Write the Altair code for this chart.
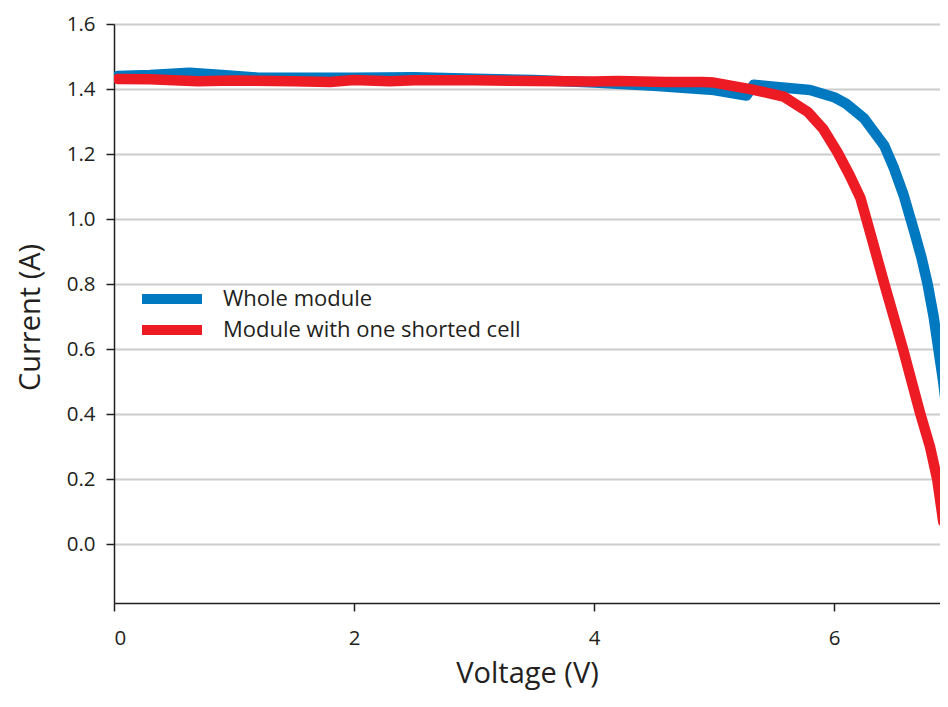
import altair as alt
import pandas as pd

# Whole module I-V curve (voltage V, current A)
whole_v = [0.03, 0.3, 0.63, 0.9, 1.2, 2.0, 2.5, 3.0, 3.5, 4.0, 4.5, 5.0, 5.27, 5.33,
           5.5, 5.8, 6.0, 6.1, 6.25, 6.42, 6.5, 6.58, 6.67, 6.73, 6.78, 6.83, 6.87, 6.91, 6.94]
whole_i = [1.44, 1.443, 1.45, 1.443, 1.435, 1.435, 1.436, 1.432, 1.428, 1.42, 1.41, 1.397, 1.38, 1.413,
           1.407, 1.397, 1.375, 1.355, 1.31, 1.225, 1.156, 1.074, 0.96, 0.88, 0.80, 0.70, 0.60, 0.50, 0.41]

# Module with one shorted cell
short_v = [0.03, 0.3, 0.7, 1.0, 1.5, 1.8, 2.0, 2.3, 2.5, 3.0, 3.5, 4.0, 4.2, 4.6, 4.9, 5.0,
           5.3, 5.58, 5.78, 5.91, 6.03, 6.13, 6.22, 6.3, 6.42, 6.575, 6.72, 6.8, 6.86, 6.91]
short_i = [1.431, 1.43, 1.424, 1.426, 1.424, 1.422, 1.428, 1.424, 1.427, 1.427, 1.425, 1.423, 1.425, 1.422, 1.422, 1.42,
           1.40, 1.377, 1.33, 1.277, 1.205, 1.135, 1.065, 0.96, 0.80, 0.60, 0.40, 0.30, 0.20, 0.07]

series_names = ["Whole module", "Module with one shorted cell"]
series_colors = ["#0079C1", "#ED1C24"]

x_ticks = [0, 2, 4, 6]
y_ticks = [0.0, 0.2, 0.4, 0.6, 0.8, 1.0, 1.2, 1.4, 1.6]

rows = []
for k, (v, i) in enumerate(zip(whole_v, whole_i)):
    rows.append({"series": series_names[0], "V": v, "I": i, "k": k})
for k, (v, i) in enumerate(zip(short_v, short_i)):
    rows.append({"series": series_names[1], "V": v, "I": i, "k": k})
df = pd.DataFrame(rows)

FONT = "Open Sans"
TXT = "#231f20"

chart = alt.Chart(df).mark_line(
    strokeWidth=10.5, strokeCap="round", strokeJoin="round", clip=True
).encode(
    x=alt.X("V:Q",
            scale=alt.Scale(domain=[0, 6.883], nice=False, zero=False),
            axis=alt.Axis(title="Voltage (V)", values=x_ticks, format="d",
                          grid=False, tickSize=8, labelPadding=17,
                          titlePadding=11, titleFontSize=29)),
    y=alt.Y("I:Q",
            scale=alt.Scale(domain=[-0.18, 1.6], nice=False, zero=False),
            axis=alt.Axis(title="Current (A)", values=y_ticks, format=".1f",
                          grid=True, tickSize=8, labelPadding=11,
                          titlePadding=21, titleFontSize=29, titleY=293)),
    color=alt.Color("series:N",
                    scale=alt.Scale(domain=series_names, range=series_colors),
                    sort=series_names,
                    legend=alt.Legend(title=None, orient="none",
                                      legendX=47, legendY=264,
                                      symbolType="M-6,0H6", symbolSize=100,
                                      symbolStrokeWidth=10, labelOffset=40,
                                      rowPadding=-12, padding=0, labelLimit=0,
                                      labelFontSize=22, labelFont=FONT,
                                      labelColor=TXT)),
    order="k:Q",
).properties(
    width=826, height=579,
    autosize="none",
    padding={"left": 106, "top": 16, "right": 0, "bottom": 92},
).configure_view(
    stroke=None
).configure_axis(
    labelFont=FONT, titleFont=FONT, labelFontSize=20.5,
    labelColor=TXT, titleColor=TXT, titleFontWeight="normal",
    domainColor=TXT, domainWidth=1.5, tickColor=TXT, tickWidth=1.5,
    gridColor="#cccccc", gridWidth=2,
)

chart.save("out.html", embed_options={"renderer": "svg", "actions": False})
